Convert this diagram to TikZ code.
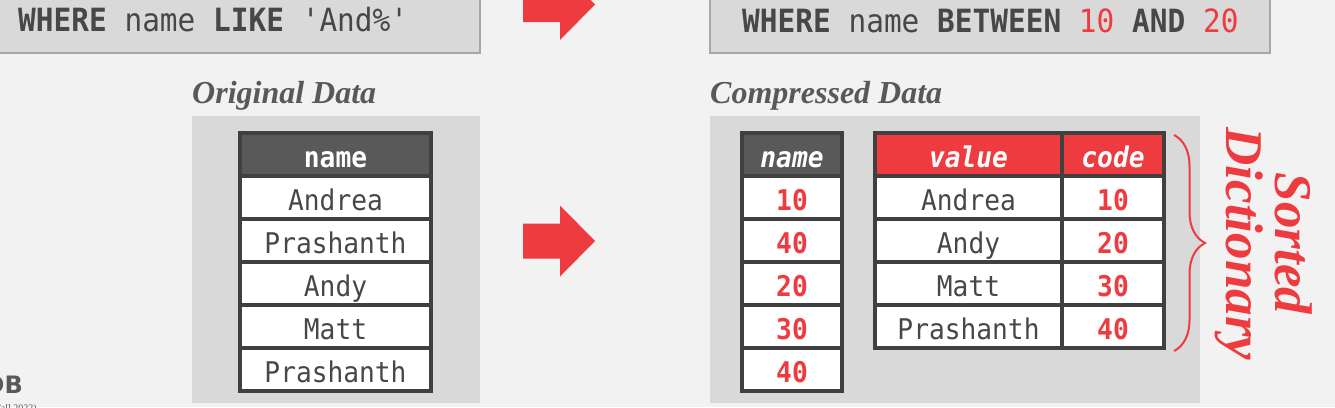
\documentclass[tikz,border=0pt]{standalone}
\usepackage{fontspec}
\setmainfont{Liberation Serif}
\setsansfont{DejaVu Sans}
\setmonofont[FakeStretch=0.92]{DejaVu Sans Mono}
\usetikzlibrary{decorations.pathreplacing}

\definecolor{sfondo}{HTML}{F2F2F2}
\definecolor{pannello}{HTML}{D9D9D9}
\definecolor{cornice}{HTML}{A6A6A6}
\definecolor{scuro}{HTML}{595959}
\definecolor{bordo}{HTML}{404040}
\definecolor{testo}{HTML}{474747}
\definecolor{rosso}{HTML}{EE3B3F}

\newcommand{\mono}{\fontsize{28.5}{28.5}\selectfont\ttfamily}

\tikzset{
  cella/.style={draw=bordo, line width=4pt, fill=white, minimum height=43pt, inner sep=0pt,
    text height=25pt, text depth=0pt, font=\mono, text=testo},
  testa/.style={cella, fill=scuro, text=white, font=\mono\bfseries},
  codice/.style={cella, text=rosso, font=\mono\bfseries},
  titolo/.style={anchor=base west, inner sep=0pt, text=scuro,
    font=\fontsize{32}{32}\selectfont\bfseries\itshape},
  query/.style={anchor=base west, inner sep=0pt, text=testo,
    font=\fontsize{32}{32}\selectfont\ttfamily},
  verticale/.style={rotate=-90, anchor=base, inner sep=0pt, text=rosso,
    font=\fontsize{53}{53}\selectfont\bfseries\itshape}
}

\begin{document}
\begin{tikzpicture}[x=1pt, y=-1pt]
  % Sfondo
  \useasboundingbox (0,0) rectangle (1335,407);
  \clip (0,0) rectangle (1335,407);
  \fill[sfondo] (0,0) rectangle (1335,407);

  % Query
  \draw[cornice, line width=2.5pt, fill=pannello] (-10,-10) rectangle (480,53);
  \draw[cornice, line width=2.5pt, fill=pannello] (710,-10) rectangle (1270,53);
  \node[query] (q1) at (18,31) {\textbf{WHERE} name \textbf{LIKE} 'And\%'};
  \node[query] (q2) at (742,32) {\textbf{WHERE} name \textbf{BETWEEN} \textcolor{rosso}{10} \textbf{AND} \textcolor{rosso}{20}};

  % Frecce
  \foreach \y in {4.5, 241}
    \fill[rosso] (523,\y-17.5) -- (560,\y-17.5) -- (560,\y-35.5) -- (595,\y)
      -- (560,\y+35.5) -- (560,\y+17.5) -- (523,\y+17.5) -- cycle;

  % Titoli
  \node[titolo] (t1) at (192,103) {Original Data};
  \node[titolo] (t2) at (710,103) {Compressed Data};

  % Pannelli
  \fill[pannello] (192,116) rectangle (480,403);
  \fill[pannello] (710,116) rectangle (1200,403);

  % Dati originali
  \node[testa, minimum width=191pt] (o0) at (335.5,154.5) {name};
  \foreach \n/\t in {1/Andrea, 2/Prashanth, 3/Andy, 4/Matt, 5/Prashanth}
    \node[cella, minimum width=191pt] (o\n) at (335.5,154.5+43*\n) {\t};

  % Dati compressi
  \node[testa, minimum width=100pt, font=\mono\bfseries\itshape] (c0) at (792,154.5) {name};
  \foreach \n/\t in {1/10, 2/40, 3/20, 4/30, 5/40}
    \node[codice, minimum width=100pt] (c\n) at (792,154.5+43*\n) {\t};

  % Dizionario
  \node[testa, fill=rosso, minimum width=187pt, font=\mono\bfseries\itshape] (v0) at (968.5,154.5) {value};
  \node[testa, fill=rosso, minimum width=102pt, font=\mono\bfseries\itshape] (k0) at (1113,154.5) {code};
  \foreach \n/\t/\k in {1/Andrea/10, 2/Andy/20, 3/Matt/30, 4/Prashanth/40} {
    \node[cella, minimum width=187pt] (v\n) at (968.5,154.5+43*\n) {\t};
    \node[codice, minimum width=102pt] (k\n) at (1113,154.5+43*\n) {\k};
  }

  % Graffa
  \coordinate (g1) at (1174,135);
  \coordinate (g2) at (1174,351);
  \draw[rosso, line width=2pt, decorate, decoration={brace, amplitude=31pt}] (g1) -- (g2);
  \node[verticale] (s1) at (1275,243.5) {Sorted};
  \node[verticale] (s2) at (1226,244) {Dictionary};

  % Piede
  \node[anchor=base east, inner sep=0pt, text=scuro, font=\fontsize{24}{24}\selectfont\sffamily\bfseries] (logo) at (23,393) {DB};
  \node[anchor=base east, inner sep=0pt, text=scuro, font=\fontsize{10}{10}\selectfont] (anno) at (37,411) {(Fall 2022)};
\end{tikzpicture}
\end{document}
